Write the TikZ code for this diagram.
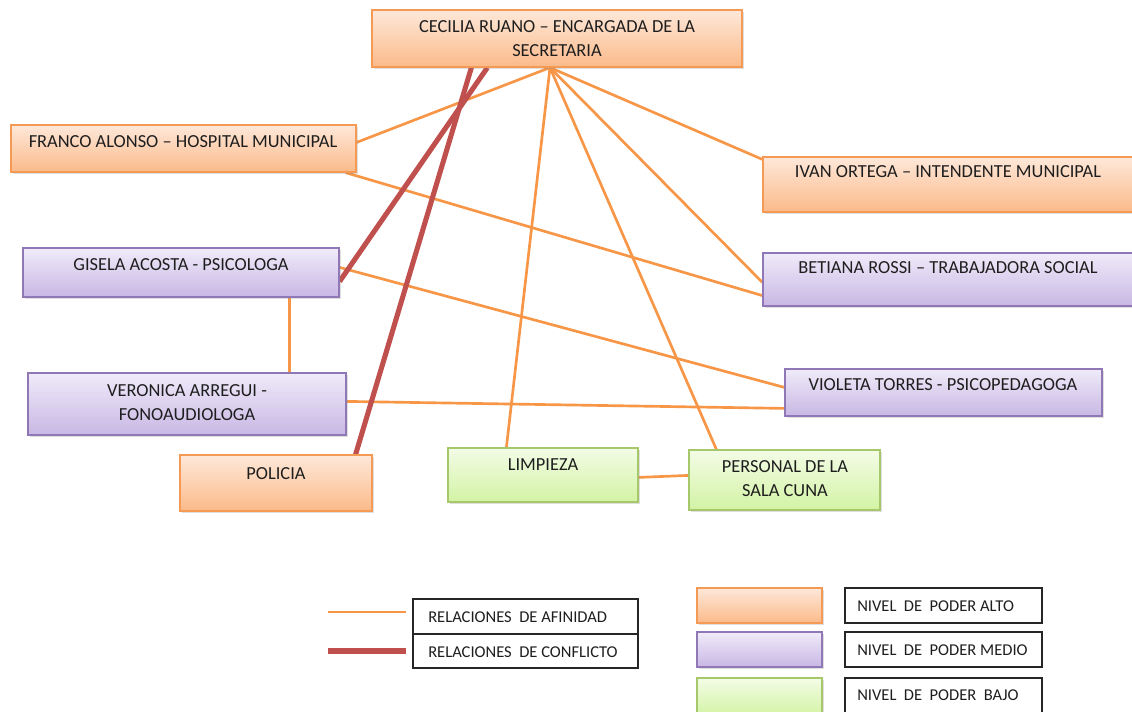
\documentclass[tikz,border=0pt]{standalone}
\usepackage{fontspec}
\setmainfont{Carlito}
\usetikzlibrary{fit,calc,shadows,backgrounds}
\definecolor{obord}{HTML}{F59A55}
\definecolor{otop}{HTML}{FEE8D9}
\definecolor{obot}{HTML}{FBBA8A}
\definecolor{pbord}{HTML}{9078B6}
\definecolor{ptop}{HTML}{F0EBF9}
\definecolor{pbot}{HTML}{C8B7E4}
\definecolor{gbord}{HTML}{A6C76A}
\definecolor{gtop}{HTML}{F3FCE6}
\definecolor{gbot}{HTML}{D3F3A4}
\definecolor{afin}{HTML}{F79646}
\definecolor{confl}{HTML}{C0504D}
\definecolor{ink}{HTML}{1E1E1E}
\tikzset{
  boxbase/.style={inner sep=0pt, line width=0.9pt,
    drop shadow={shadow xshift=1.2pt, shadow yshift=-1.5pt, opacity=0.25}},
  alto/.style={boxbase, draw=obord, top color=otop, bottom color=obot},
  medio/.style={boxbase, draw=pbord, top color=ptop, bottom color=pbot},
  bajo/.style={boxbase, draw=gbord, top color=gtop, bottom color=gbot},
  txt/.style={text=ink, inner sep=0pt, align=center, font=\fontsize{13.8}{18}\selectfont},
  ltxt/.style={text=ink, inner sep=0pt, anchor=west, font=\fontsize{12.4}{14}\selectfont},
  afinidad/.style={afin, line width=2pt},
  conflicto/.style={confl, line width=3.8pt},
  legbox/.style={draw=black!85, line width=0.9pt, inner sep=0pt}
}
\begin{document}
\begin{tikzpicture}[x=0.75pt,y=-0.75pt]
\useasboundingbox (0,0) rectangle (1132,711);
% boxes
\node[alto, fit={(372,10)(742,67)}] (cec) {};
\node[txt] (cect) at (557,39) {CECILIA RUANO – ENCARGADA DE LA\\SECRETARIA};
\node[alto, fit={(11,125)(356,172)}] (fra) {};
\node[txt] (frat) at (183,142) {FRANCO ALONSO – HOSPITAL MUNICIPAL};
\node[alto, fit={(763,157)(1134,212)}] (iva) {};
\node[txt] (ivat) at (948,172) {IVAN ORTEGA – INTENDENTE MUNICIPAL};
\node[medio, fit={(23,248)(339,297)}] (gis) {};
\node[txt] (gist) at (181,265) {GISELA ACOSTA - PSICOLOGA};
\node[medio, fit={(763,253)(1134,306)}] (bet) {};
\node[txt] (bett) at (948,268) {BETIANA ROSSI – TRABAJADORA SOCIAL};
\node[medio, fit={(28,373)(346,435)}] (ver) {};
\node[txt] (vert) at (187,403) {VERONICA ARREGUI -\\FONOAUDIOLOGA};
\node[medio, fit={(785,369)(1102,416)}] (vio) {};
\node[txt] (viot) at (943,385) {VIOLETA TORRES - PSICOPEDAGOGA};
\node[alto, fit={(180,455)(372,511)}] (pol) {};
\node[txt] (polt) at (276,474) {POLICIA};
\node[bajo, fit={(448,448)(638,502)}] (lim) {};
\node[txt] (limt) at (543,465) {LIMPIEZA};
\node[bajo, fit={(689,450)(880,510)}] (per) {};
\node[txt] (pert) at (785,479) {PERSONAL DE LA\\SALA CUNA};
% connectors
\begin{scope}[on background layer]
\coordinate (hub) at ($(cec.south)+(-7,0)$);
\draw[afinidad] (hub) -- ($(fra.north east)+(0,18)$);
\draw[afinidad] (hub) -- ($(iva.north west)+(0,3)$);
\draw[afinidad] (hub) -- ($(bet.north west)+(0,30)$);
\draw[afinidad] (hub) -- ($(per.north west)+(28,0)$);
\draw[afinidad] (hub) -- ($(lim.north west)+(59,0)$);
\draw[afinidad] ($(fra.south east)+(-11,0)$) -- ($(bet.south west)+(0,-11)$);
\draw[afinidad] ($(gis.north east)+(0,20)$) -- ($(vio.north west)+(0,19)$);
\draw[afinidad] ($(ver.north east)+(0,29)$) -- ($(vio.north west)+(0,40)$);
\draw[afinidad] ($(gis.south west)+(267,0)$) -- ($(ver.north west)+(262,0)$);
\draw[afinidad] ($(lim.north east)+(0,30)$) -- ($(per.north west)+(0,26)$);
\draw[conflicto] ($(cec.south west)+(116,0)$) -- ($(gis.north east)+(0,34)$);
\draw[conflicto] ($(cec.south west)+(100,0)$) -- ($(pol.north east)+(-17,0)$);
\end{scope}
% legend lines
\coordinate (la1) at (328,612);
\coordinate (la2) at (406,612);
\coordinate (lc1) at (328,651);
\coordinate (lc2) at (406,651);
\draw[afin, line width=2.2pt, drop shadow={shadow xshift=0.5pt, shadow yshift=-1.5pt, opacity=0.2}] (la1) -- (la2);
\draw[conflicto, drop shadow={shadow xshift=0.5pt, shadow yshift=-1.5pt, opacity=0.2}] (lc1) -- (lc2);
\node[legbox, fit={(413,599)(638,634)}] (lr1) {};
\node[legbox, fit={(413,634)(638,668)}] (lr2) {};
\node[ltxt] (lr1t) at (428,617) {RELACIONES\ \ DE AFINIDAD};
\node[ltxt] (lr2t) at (428,652) {RELACIONES\ \ DE CONFLICTO};
\node[alto, fit={(697,588)(822,623)}] (sa) {};
\node[medio, fit={(697,632)(822,667)}] (sm) {};
\node[bajo, fit={(697,678)(822,716)}] (sb) {};
\node[legbox, fit={(845,588)(1042,623)}] (na) {};
\node[legbox, fit={(845,632)(1042,667)}] (nm) {};
\node[legbox, fit={(845,678)(1042,716)}] (nb) {};
\node[ltxt] (nat) at (857,606) {NIVEL\ \ DE\ \ PODER ALTO};
\node[ltxt] (nmt) at (857,650) {NIVEL\ \ DE\ \ PODER MEDIO};
\node[ltxt] (nbt) at (857,695) {NIVEL\ \ DE\ \ PODER\ \ BAJO};
\end{tikzpicture}
\end{document}
